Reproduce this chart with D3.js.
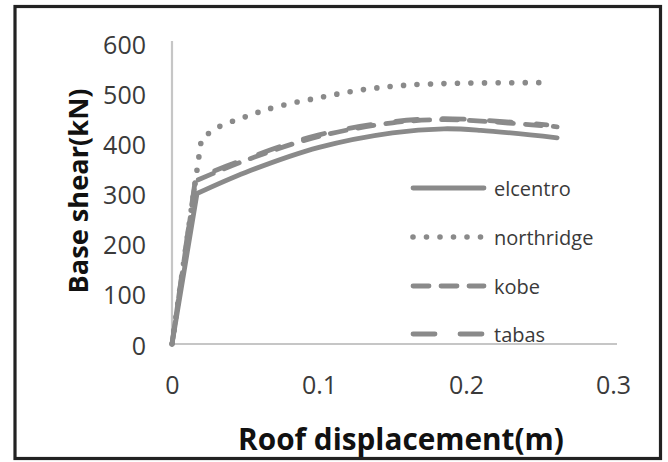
<!DOCTYPE html>
<html>
<head>
<meta charset="utf-8">
<script src="https://cdn.jsdelivr.net/npm/d3@7"></script>
<style>
  html, body { margin: 0; padding: 0; background: #fff; }
  svg { display: block; }
</style>
</head>
<body>
<svg id="chart" width="668" height="462"></svg>
<script>
// ---- data ----
const seriesNames = ["elcentro", "northridge", "kobe", "tabas"];
const elcentroX = [0, 0.017, 0.05, 0.1, 0.15, 0.185, 0.21, 0.262];
const elcentroY = [0, 300, 342, 392, 421, 429, 426, 411];
const northridgeX = [0, 0.02, 0.03, 0.05, 0.07, 0.1, 0.13, 0.16, 0.2, 0.254];
const northridgeY = [0, 408, 430, 453, 472, 491, 507, 516, 520, 521];
const kobeX = [0, 0.016, 0.05, 0.1, 0.15, 0.18, 0.2, 0.262];
const kobeY = [0, 325, 366, 414, 441, 447, 446, 433];
const tabasX = [0, 0.016, 0.05, 0.1, 0.15, 0.18, 0.2, 0.255];
const tabasY = [0, 330, 369, 417, 443, 449, 448, 437];
const xTicks = [0, 0.1, 0.2, 0.3];
const yTicks = [0, 100, 200, 300, 400, 500, 600];
const xTitle = "Roof displacement(m)";
const yTitle = "Base shear(kN)";

const seriesData = [
  { name: seriesNames[0], xs: elcentroX, ys: elcentroY, dash: null, w: 4.8 },
  { name: seriesNames[1], xs: northridgeX, ys: northridgeY, dash: "0 13.5", w: 5.6 },
  { name: seriesNames[2], xs: kobeX, ys: kobeY, dash: "16 12", w: 4.8 },
  { name: seriesNames[3], xs: tabasX, ys: tabasY, dash: "22 25", w: 4.8 }
];

const svg = d3.select("#chart");
const FONT = "'Open Sans', 'Liberation Sans', sans-serif";
const lineColor = "#8a8a8a";

// frame
svg.append("rect").attr("x", 15).attr("y", 6.5).attr("width", 645.5).attr("height", 452)
  .attr("fill", "#fff").attr("stroke", "#222").attr("stroke-width", 3.2);

const x = d3.scaleLinear().domain([0, 0.3]).range([172, 613]);
const y = d3.scaleLinear().domain([0, 600]).range([344, 43]);

// axes
const yAxis = svg.append("g").attr("transform", "translate(172,0)")
  .call(d3.axisLeft(y).tickValues(yTicks).tickSize(0).tickSizeOuter(0).tickPadding(26).tickFormat(d3.format("d")));
yAxis.select(".domain").attr("stroke", "#c6c6c6").attr("stroke-width", 2.2).attr("d", `M0,${y(0)}V${y(600) - 2}`);
yAxis.selectAll("text").attr("font-family", FONT).attr("font-size", 25).attr("fill", "#3a3a3a")
  .attr("dy", null).attr("dominant-baseline", "central");

const xAxis = svg.append("g").attr("transform", "translate(0,344)")
  .call(d3.axisBottom(x).tickValues(xTicks).tickSize(0).tickSizeOuter(0).tickFormat(d => d === 0 ? "0" : d3.format(".1f")(d)));
xAxis.select(".domain").attr("stroke", "#c6c6c6").attr("stroke-width", 2.2).attr("d", `M${x(0)},0H${x(0.3) + 4}`);
xAxis.selectAll("text").attr("font-family", FONT).attr("font-size", 25).attr("fill", "#3a3a3a")
  .attr("y", 40).attr("dy", null).attr("dominant-baseline", "central");

// series: straight elastic segment, smooth curve afterwards
const smooth = d3.line().x(d => x(d[0])).y(d => y(d[1])).curve(d3.curveCatmullRom.alpha(0.5));
seriesData.forEach(s => {
  const pts = s.xs.map((v, i) => [v, s.ys[i]]);
  const d = `M${x(pts[0][0])},${y(pts[0][1])}` + smooth(pts.slice(1)).replace(/^M/, "L");
  svg.append("path").attr("d", d)
    .attr("fill", "none").attr("stroke", lineColor).attr("stroke-width", s.w)
    .attr("stroke-linecap", "round").attr("stroke-linejoin", "round")
    .attr("stroke-dasharray", s.dash);
});

// legend
const legendY = [188, 237, 286, 334];
seriesData.forEach((s, i) => {
  const g = svg.append("g");
  g.append("line").attr("x1", 413).attr("x2", 484).attr("y1", legendY[i]).attr("y2", legendY[i])
    .attr("stroke", lineColor).attr("stroke-width", s.w).attr("stroke-linecap", "round")
    .attr("stroke-dasharray", s.dash);
  g.append("text").attr("x", 494).attr("y", legendY[i]).attr("dominant-baseline", "central")
    .attr("font-family", FONT).attr("font-size", 20).attr("fill", "#3a3a3a").text(s.name);
});

// titles
function fitText(sel, target) {
  const w = sel.node().getComputedTextLength();
  const fs = parseFloat(sel.attr("font-size"));
  sel.attr("font-size", fs * target / w);
}
const xt = svg.append("text").attr("x", 401).attr("y", 450).attr("text-anchor", "middle")
  .attr("font-family", FONT).attr("font-weight", "bold").attr("font-size", 28).attr("fill", "#111").text(xTitle);
fitText(xt, 326);
const yt = svg.append("text").attr("transform", "translate(88,191) rotate(-90)").attr("text-anchor", "middle")
  .attr("font-family", FONT).attr("font-weight", "bold").attr("font-size", 28).attr("fill", "#111").text(yTitle);
fitText(yt, 205);
</script>
</body>
</html>
